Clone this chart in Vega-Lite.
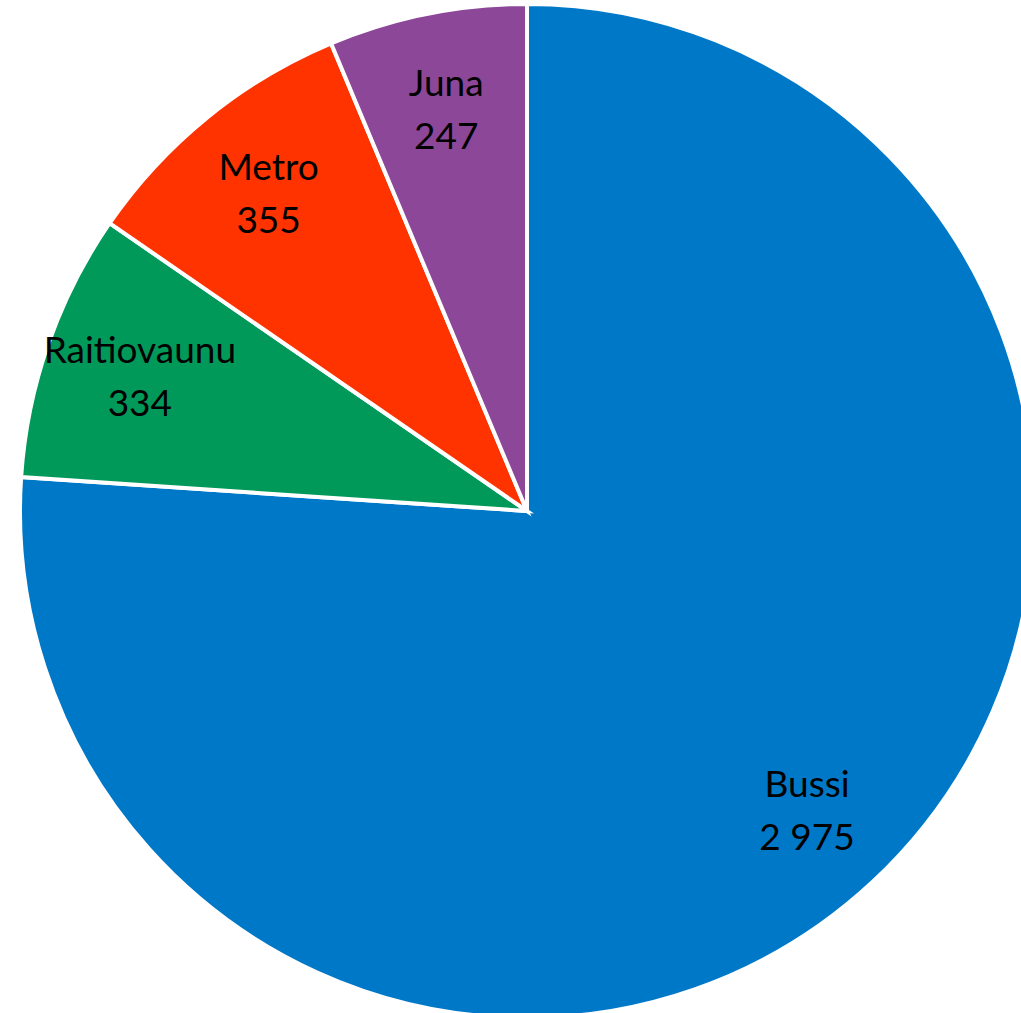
{
  "$schema": "https://vega.github.io/schema/vega-lite/v6.json",
  "autosize": {"type": "none"},
  "width": 1054,
  "height": 1022,
  "padding": 0,
  "background": "white",
  "view": {"stroke": null},
  "data": {
    "values": [
      {"mode": "Bussi", "value": 2975, "idx": 1},
      {"mode": "Raitiovaunu", "value": 334, "idx": 2},
      {"mode": "Metro", "value": 355, "idx": 3},
      {"mode": "Juna", "value": 247, "idx": 4}
    ]
  },
  "transform": [
    {"calculate": "[datum.mode, replace(format(datum.value, ','), ',', ' ')]", "as": "label"}
  ],
  "encoding": {
    "theta": {"field": "value", "type": "quantitative", "stack": true},
    "order": {"field": "idx", "type": "quantitative", "sort": "ascending"}
  },
  "layer": [
    {
      "mark": {"type": "arc", "outerRadius": 507, "stroke": "white", "strokeWidth": 4},
      "encoding": {
        "color": {
          "field": "mode",
          "type": "nominal",
          "scale": {
            "domain": ["Bussi", "Raitiovaunu", "Metro", "Juna"],
            "range": ["#0078C8", "#00995A", "#FF3300", "#8C4799"]
          },
          "legend": null
        }
      }
    },
    {
      "mark": {"type": "text", "radius": 410, "dy": -24, "font": "Lato", "fontSize": 37, "lineHeight": 53, "align": "center", "baseline": "middle", "color": "black"},
      "encoding": {
        "text": {"field": "label"}
      }
    }
  ]
}
